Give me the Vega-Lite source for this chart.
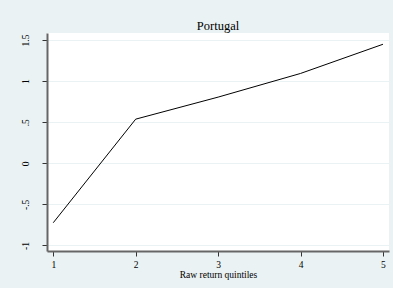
{
  "$schema": "https://vega.github.io/schema/vega-lite/v6.json",
  "autosize": "none",
  "width": 342,
  "height": 218,
  "padding": {"left": 47, "top": 33, "right": 4, "bottom": 37},
  "background": "#EAF2F3",
  "title": {
    "text": "Portugal",
    "font": "Liberation Serif",
    "fontSize": 12.5,
    "fontWeight": 400,
    "color": "#000000",
    "anchor": "middle",
    "offset": 1
  },
  "config": {
    "view": {"fill": "#FFFFFF", "stroke": null},
    "axis": {
      "labelFont": "Liberation Serif",
      "titleFont": "Liberation Serif",
      "labelColor": "#000000",
      "titleColor": "#000000",
      "titleFontWeight": 400,
      "domainColor": "#666666",
      "domainWidth": 2,
      "tickColor": "#333333",
      "tickWidth": 1,
      "tickSize": 5,
      "gridColor": "#EAF2F3",
      "gridWidth": 1
    }
  },
  "data": {
    "values": [
      {"quintile": 1, "value": -0.723},
      {"quintile": 2, "value": 0.537},
      {"quintile": 3, "value": 0.805},
      {"quintile": 4, "value": 1.093},
      {"quintile": 5, "value": 1.448}
    ]
  },
  "mark": {"type": "line", "color": "#000000", "strokeWidth": 1},
  "encoding": {
    "x": {
      "field": "quintile",
      "type": "quantitative",
      "scale": {"domain": [0.924, 5.073], "nice": false, "zero": false},
      "axis": {
        "values": [1, 2, 3, 4, 5],
        "title": "Raw return quintiles",
        "titleFontSize": 9.5,
        "titlePadding": 1,
        "labelFontSize": 9.5,
        "labelPadding": 3,
        "grid": false,
        "labelFlush": false
      }
    },
    "y": {
      "field": "value",
      "type": "quantitative",
      "scale": {"domain": [-1.067, 1.585], "nice": false, "zero": false},
      "axis": {
        "values": [-1, -0.5, 0, 0.5, 1, 1.5],
        "title": null,
        "labelAngle": -90,
        "labelFontSize": 9.5,
        "labelPadding": 12,
        "labelExpr": "replace(datum.value + '', '0.', '.')",
        "grid": true,
        "labelFlush": false
      }
    }
  }
}
